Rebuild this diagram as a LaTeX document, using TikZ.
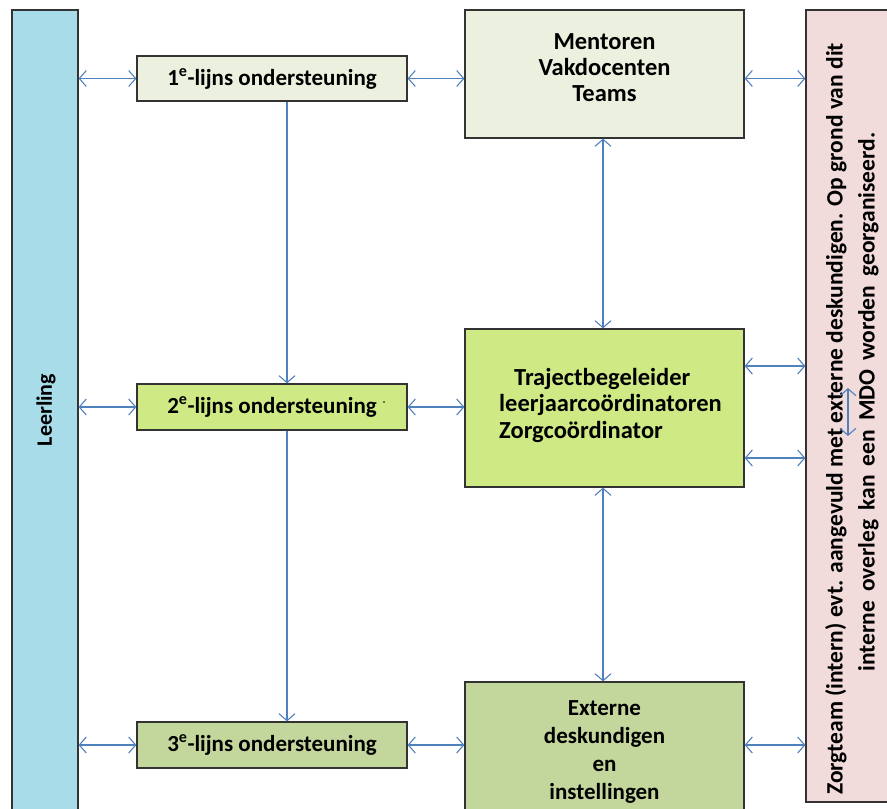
\documentclass[tikz,border=0pt]{standalone}
\usepackage{fontspec}
\setmainfont{Carlito}
\usetikzlibrary{arrows.meta}
\definecolor{leerblue}{HTML}{A8DCE8}
\definecolor{lightolive}{HTML}{EBF1DE}
\definecolor{limegreen}{HTML}{CFEA84}
\definecolor{olive}{HTML}{C3D69B}
\definecolor{pinkbox}{HTML}{F2DCDB}
\definecolor{arrowblue}{HTML}{4F81BD}
\tikzset{
  box/.style={draw=black!80, line width=1.2pt, inner sep=0pt, font=\bfseries\fontsize{23}{27}\selectfont},
  arr/.style={draw=arrowblue, line width=1.1pt, {Straight Barb[length=7pt,width=16pt]}-{Straight Barb[length=7pt,width=16pt]}},
  arrone/.style={draw=arrowblue, line width=1.1pt, -{Straight Barb[length=7pt,width=16pt]}},
}
\begin{document}
\begin{tikzpicture}[x=1pt,y=-1pt]
\useasboundingbox (0,0) rectangle (887,809);
% left column
\node[box, fill=leerblue, minimum width=66pt, minimum height=810pt] (leer) at (45,415) {};
\node[font=\bfseries\fontsize{22}{26}\selectfont, rotate=90] (leertxt) at (46,410) {Leerling};
% support lines
\node[box, fill=lightolive, minimum width=270pt, minimum height=45pt] (n1) at (272,78.5) {1\textsuperscript{e}-lijns ondersteuning};
\node[box, fill=limegreen, minimum width=270pt, minimum height=46pt] (n2) at (272,407) {2\textsuperscript{e}-lijns ondersteuning};
\node[box, fill=olive, minimum width=270pt, minimum height=46pt] (n3) at (272,745) {3\textsuperscript{e}-lijns ondersteuning};
\fill (384,402) circle (0.8pt);
% middle column
\node[box, fill=lightolive, minimum width=279pt, minimum height=128pt] (ment) at (604.5,74) {};
\node[font=\bfseries\fontsize{24.5}{26}\selectfont, align=center] (menttxt) at (604.5,68) {Mentoren\\Vakdocenten\\Teams};
\node[box, fill=limegreen, minimum width=279pt, minimum height=158pt] (trj) at (604.5,408) {};
\node[font=\bfseries\fontsize{24.5}{26.5}\selectfont, align=left] (trjtxt) at (610.5,405) {\hspace{15pt}Trajectbegeleider\\leerjaarcoördinatoren\\Zorgcoördinator};
\node[box, fill=olive, minimum width=279pt, minimum height=140pt] (ext) at (604.5,752) {};
\node[font=\bfseries\fontsize{23}{28}\selectfont, align=center] (exttxt) at (604.5,752) {Externe\\deskundigen\\en\\instellingen};
% right column
\node[box, fill=pinkbox, minimum width=100pt, minimum height=792pt] (zorg) at (856,406) {};
\node[font=\bfseries\fontsize{23.5}{32}\selectfont, align=center, rotate=90] (zorgtxt) at (852,419) {Zorgteam (intern) evt. aangevuld met externe deskundigen. Op grond van dit\\\hspace*{34pt}{\spaceskip=9pt plus 2pt interne overleg kan een MDO worden georganiseerd.}};
% connectors
\coordinate (ta) at ([yshift=42pt]trj.east);
\coordinate (tb) at ([yshift=-50pt]trj.east);
\draw[arr] (leer.east |- n1) -- (n1.west);
\draw[arr] (n1.east) -- (ment.west |- n1);
\draw[arr] (ment.east |- n1) -- (zorg.west |- n1);
\draw[arr] (leer.east |- n2) -- (n2.west);
\draw[arr] (n2.east) -- (trj.west |- n2);
\draw[arr] (leer.east |- n3) -- (n3.west);
\draw[arr] (n3.east) -- (ext.west |- n3);
\draw[arr] (ext.east |- n3) -- (zorg.west |- n3);
\draw[arr] (ta) -- (zorg.west |- ta);
\draw[arr] (tb) -- (zorg.west |- tb);
\draw[arr] ([xshift=-1.5pt]ment.south) -- ([xshift=-1.5pt]trj.north);
\draw[arr] ([xshift=-1.5pt]trj.south) -- ([xshift=-1.5pt]ext.north);
\draw[arrone] ([xshift=15pt]n1.south) -- ([xshift=15pt]n2.north);
\draw[arrone] ([xshift=15pt]n2.south) -- ([xshift=15pt]n3.north);
\coordinate (za) at (848,388);
\coordinate (zb) at (848,436);
\draw[arr] (za) -- (zb);
\end{tikzpicture}
\end{document}
